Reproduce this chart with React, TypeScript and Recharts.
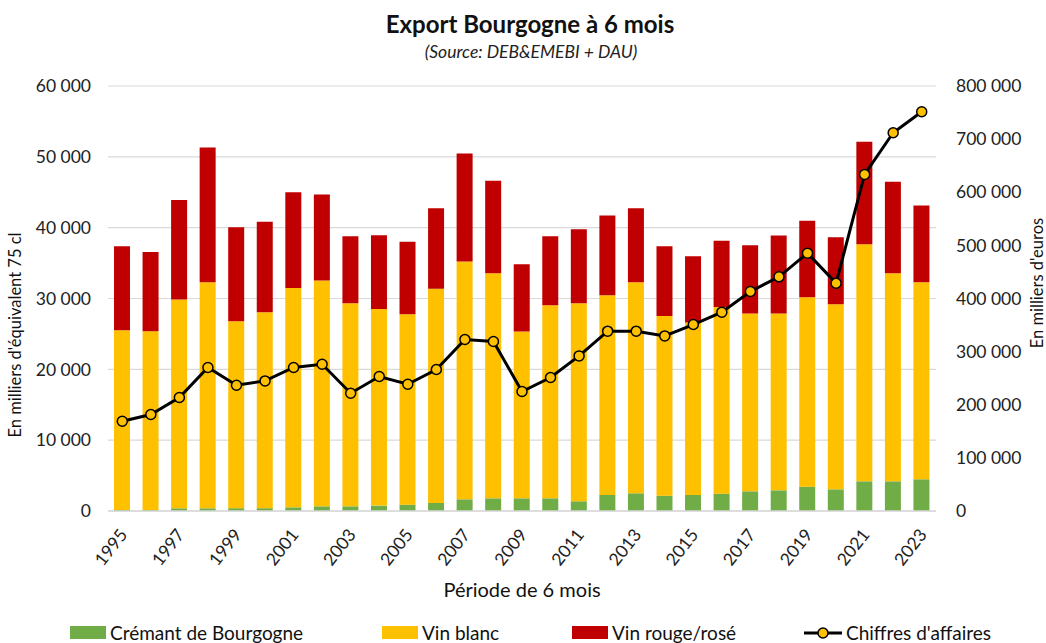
import React from 'react';
import {
  ComposedChart,
  Bar,
  Line,
  XAxis,
  YAxis,
  CartesianGrid
} from 'recharts';

const years = [
  '1995', '1996', '1997', '1998', '1999', '2000', '2001', '2002', '2003', '2004',
  '2005', '2006', '2007', '2008', '2009', '2010', '2011', '2012', '2013', '2014',
  '2015', '2016', '2017', '2018', '2019', '2020', '2021', '2022', '2023'
];

// volumes, milliers d'équivalent 75 cl
const cremant = [
  150, 150, 380, 380, 400, 400, 520, 660, 660, 760,
  900, 1130, 1650, 1790, 1790, 1790, 1370, 2260, 2500, 2170,
  2260, 2450, 2780, 2920, 3440, 3060, 4190, 4190, 4480
];
const vinBlanc = [
  25370, 25230, 29480, 31920, 26390, 27660, 30980, 31880, 28680, 27770,
  26880, 30230, 33580, 31780, 23550, 27260, 27970, 28210, 29800, 25370,
  24350, 26360, 25100, 24960, 26740, 26130, 33480, 29380, 27820
];
const vinRouge = [
  11870, 11200, 14030, 19030, 13280, 12760, 13510, 12150, 9460, 10410,
  10220, 11390, 15250, 13040, 9500, 9750, 10450, 11250, 10450, 9850,
  9360, 9330, 9650, 11020, 10780, 9470, 14450, 12900, 10830
];
// chiffre d'affaires, milliers d'euros
const chiffres = [
  168900, 181600, 213600, 270100, 236800, 244900, 270100, 276300, 221700, 253200,
  238600, 266300, 322800, 319100, 224900, 251200, 292000, 338500, 338500, 329600,
  351000, 374300, 413200, 440800, 485400, 428900, 633600, 712000, 751600
];

const leftTicks = [0, 10000, 20000, 30000, 40000, 50000, 60000];
const rightTicks = [0, 100000, 200000, 300000, 400000, 500000, 600000, 700000, 800000];

const GREEN = '#70AD47';
const YELLOW = '#FFC000';
const RED = '#C00000';
const FONT = 'Lato, "Open Sans", sans-serif';

const data = years.map((y, i) => ({
  year: y,
  cremant: cremant[i],
  blanc: vinBlanc[i],
  rouge: vinRouge[i],
  ca: chiffres[i]
}));

const fmt = (v: number) => String(v).replace(/\B(?=(\d{3})+(?!\d))/g, ' ');

const YearTick = (props: any) => {
  const { x, y, payload } = props;
  return (
    <g transform={`translate(${x + 6},${y + 16}) rotate(-52)`}>
      <text textAnchor="end" fontSize={17.5} fill="#222" fontFamily={FONT}>
        {payload.value}
      </text>
    </g>
  );
};

const legendItems = [
  { label: 'Crémant de Bourgogne', color: GREEN, left: 70 },
  { label: 'Vin blanc', color: YELLOW, left: 382 },
  { label: 'Vin rouge/rosé', color: RED, left: 572 }
];

const App: React.FC = () => {
  return (
    <div style={{ position: 'absolute', left: 0, top: 0, width: 1046, height: 643, fontFamily: FONT, background: '#fff', color: '#111' }}>
      <div style={{ position: 'absolute', top: 9, left: 0, width: 1060, textAlign: 'center', fontSize: 24, fontWeight: 700 }}>
        Export Bourgogne à 6 mois
      </div>
      <div style={{ position: 'absolute', top: 41, left: 0, width: 1062, textAlign: 'center', fontSize: 17.5, fontStyle: 'italic', color: '#222' }}>
        (Source: DEB&amp;EMEBI + DAU)
      </div>

      <ComposedChart
        width={1046}
        height={643}
        data={data}
        margin={{ top: 86, right: 0, bottom: 0, left: 0 }}
        barCategoryGap="44%"
      >
        <CartesianGrid vertical={false} stroke="#D9D9D9" strokeWidth={1.2} yAxisId="left" />
        <XAxis
          dataKey="year"
          height={132}
          interval={1}
          tickLine={false}
          axisLine={{ stroke: '#D9D9D9', strokeWidth: 1.5 }}
          tick={<YearTick />}
        />
        <YAxis
          yAxisId="left"
          width={108}
          domain={[0, 60000]}
          ticks={leftTicks}
          tickFormatter={fmt}
          axisLine={false}
          tickLine={false}
          tickSize={0}
          tickMargin={17}
          tick={{ fontSize: 17.5, fill: '#222', fontFamily: FONT }}
        />
        <YAxis
          yAxisId="right"
          orientation="right"
          width={110}
          domain={[0, 800000]}
          ticks={rightTicks}
          tickFormatter={fmt}
          axisLine={false}
          tickLine={false}
          tickSize={0}
          tickMargin={20}
          tick={{ fontSize: 17.5, fill: '#222', fontFamily: FONT, textAnchor: 'start' }}
        />
        <Bar yAxisId="left" dataKey="cremant" stackId="v" fill={GREEN} barSize={16} isAnimationActive={false} />
        <Bar yAxisId="left" dataKey="blanc" stackId="v" fill={YELLOW} barSize={16} isAnimationActive={false} />
        <Bar yAxisId="left" dataKey="rouge" stackId="v" fill={RED} barSize={16} isAnimationActive={false} />
        <Line
          yAxisId="right"
          dataKey="ca"
          type="linear"
          stroke="#000"
          strokeWidth={3}
          dot={{ r: 5, fill: YELLOW, stroke: '#000', strokeWidth: 1.5 }}
          activeDot={false}
          isAnimationActive={false}
        />
      </ComposedChart>

      <div style={{ position: 'absolute', left: 522, top: 577, transform: 'translateX(-50%)', fontSize: 20, whiteSpace: 'nowrap' }}>
        Période de 6 mois
      </div>
      <div style={{ position: 'absolute', left: 15, top: 335, transform: 'translate(-50%,-50%) rotate(-90deg)', fontSize: 16.5, whiteSpace: 'nowrap' }}>
        En milliers d'équivalent 75 cl
      </div>
      <div style={{ position: 'absolute', left: 1037, top: 283, transform: 'translate(-50%,-50%) rotate(-90deg)', fontSize: 16.5, whiteSpace: 'nowrap' }}>
        En milliers d'euros
      </div>

      {legendItems.map((it) => (
        <div key={it.label} style={{ position: 'absolute', left: it.left, top: 621, display: 'flex', alignItems: 'center', fontSize: 19, whiteSpace: 'nowrap' }}>
          <span style={{ display: 'inline-block', width: 36, height: 13, background: it.color, marginRight: 4 }} />
          {it.label}
        </div>
      ))}
      <div style={{ position: 'absolute', left: 803, top: 621, display: 'flex', alignItems: 'center', fontSize: 19, whiteSpace: 'nowrap' }}>
        <svg width={40} height={14} style={{ marginRight: 3 }}>
          <line x1={1} y1={7} x2={39} y2={7} stroke="#000" strokeWidth={3} />
          <circle cx={20} cy={7} r={5} fill={YELLOW} stroke="#000" strokeWidth={1.5} />
        </svg>
        Chiffres d'affaires
      </div>
    </div>
  );
};

export default App;
